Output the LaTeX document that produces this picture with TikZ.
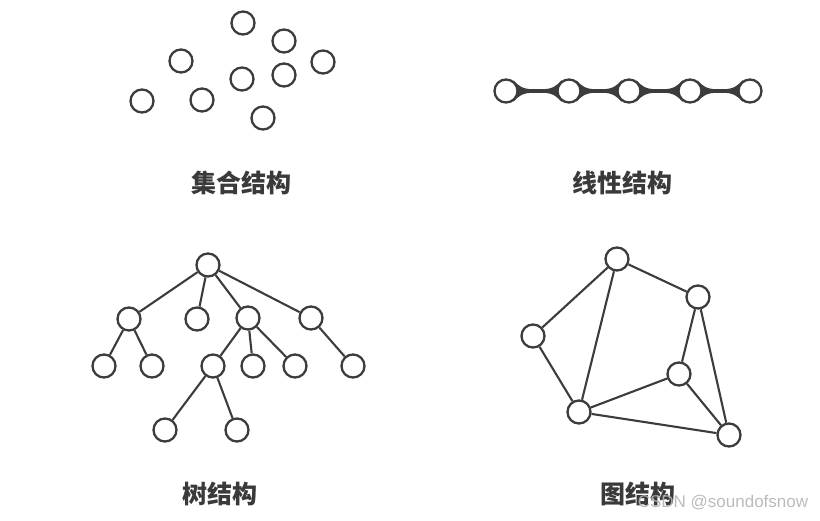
\documentclass[tikz,border=0pt]{standalone}
\usepackage{fontspec}
\newfontfamily\cjk{Noto Sans CJK SC}
\newfontfamily\wmfont{Liberation Sans}
\usetikzlibrary{calc}
\definecolor{ink}{HTML}{3C3C3C}
\definecolor{txt}{HTML}{3A3A3A}
\definecolor{wm}{HTML}{B4B4B4}
\tikzset{
  vtx/.style={circle,draw=ink,line width=2.3pt,fill=white,minimum size=23pt,inner sep=0pt},
  edge/.style={draw=ink,line width=2.1pt},
  lbl/.style={font=\cjk\bfseries\fontsize{25}{27}\selectfont,text=txt},
}
\begin{document}
\begin{tikzpicture}[x=1pt,y=-1pt]
\useasboundingbox[fill=white] (0,0) rectangle (820,521);
% set structure
\node[vtx] (s1) at (243,23) {};
\node[vtx] (s2) at (284,41) {};
\node[vtx] (s3) at (181,61) {};
\node[vtx] (s4) at (323,62) {};
\node[vtx] (s5) at (242,79) {};
\node[vtx] (s6) at (284,75) {};
\node[vtx] (s7) at (142,101) {};
\node[vtx] (s8) at (202,100) {};
\node[vtx] (s9) at (263,118) {};
\node[lbl] (tset) at (241,183) {集合结构};
% linear structure
\foreach \i/\x in {1/506,2/569,3/629,4/690,5/750}{
  \coordinate (c\i) at (\x,91);
}
\foreach \a/\b in {c1/c2,c2/c3,c3/c4,c4/c5}{
  \fill[ink] ($(\a)+(7.5,-10.8)$) .. controls +(5,6) and +(-10,0) .. ($(\a)+(27,-1.8)$)
     -- ($(\b)+(-27,-1.8)$) .. controls +(10,0) and +(-5,6) .. ($(\b)+(-7.5,-10.8)$)
     -- ($(\b)+(-7.5,10.8)$) .. controls +(-5,-6) and +(10,0) .. ($(\b)+(-27,1.8)$)
     -- ($(\a)+(27,1.8)$) .. controls +(-10,0) and +(5,-6) .. ($(\a)+(7.5,10.8)$) -- cycle;
}
\foreach \i in {1,...,5}{
  \node[vtx] (l\i) at (c\i) {};
}
\node[lbl] (tlin) at (622,183) {线性结构};
% tree structure
\node[vtx] (t0) at (208,265) {};
\node[vtx] (t1) at (129,319) {};
\node[vtx] (t2) at (197,319) {};
\node[vtx] (t3) at (248,318) {};
\node[vtx] (t4) at (311,318) {};
\node[vtx] (t5) at (104,366) {};
\node[vtx] (t6) at (152,366) {};
\node[vtx] (t7) at (213,366) {};
\node[vtx] (t8) at (253,366) {};
\node[vtx] (t9) at (295,366) {};
\node[vtx] (t10) at (353,366) {};
\node[vtx] (t11) at (165,430) {};
\node[vtx] (t12) at (237,430) {};
\foreach \a/\b in {t0/t1,t0/t2,t0/t3,t0/t4,t1/t5,t1/t6,t3/t7,t3/t8,t3/t9,t4/t10,t7/t11,t7/t12}{
  \draw[edge] (\a) -- (\b);
}
\node[lbl] (ttree) at (220,494) {树结构};
% graph structure
\node[vtx] (gA) at (617,259) {};
\node[vtx] (gB) at (698,297) {};
\node[vtx] (gC) at (533,336) {};
\node[vtx] (gD) at (679,374) {};
\node[vtx] (gE) at (579,412) {};
\node[vtx] (gF) at (729,435) {};
\foreach \a/\b in {gA/gC,gA/gE,gA/gB,gB/gD,gB/gF,gC/gE,gE/gD,gE/gF,gD/gF}{
  \draw[edge] (\a) -- (\b);
}
\node[lbl] (tgraph) at (638,494) {图结构};
\node[font=\wmfont\fontsize{17}{19}\selectfont,text=wm,opacity=0.9] (wmark) at (723,503) {CSDN @soundofsnow};
\end{tikzpicture}
\end{document}
